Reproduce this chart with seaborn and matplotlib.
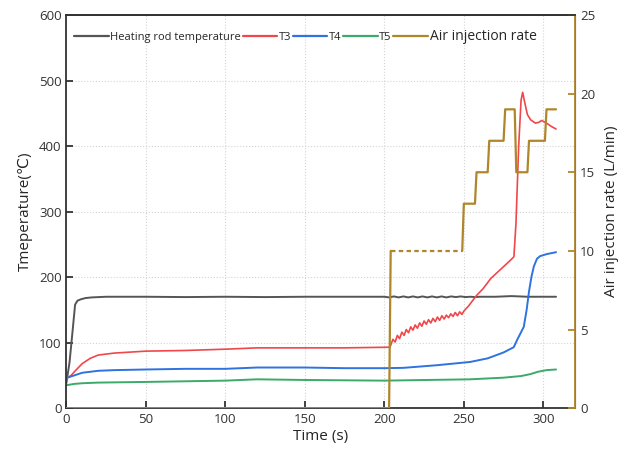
import pandas as pd
import matplotlib.pyplot as plt
import seaborn as sns
from matplotlib.lines import Line2D

# Heating rod temperature
t_rod = [0, 2, 4, 5.5, 7, 9, 12, 16, 25, 50, 75, 100, 125, 150, 175, 200,
         203, 206, 209, 212, 215, 218, 221, 224, 227, 230, 233, 236, 239, 242,
         245, 248, 251, 254, 257, 260, 270, 280, 290, 300, 308]
rod = [38, 70, 120, 158, 164, 166, 168, 169, 170, 170, 169.5, 170, 169.5, 170, 170, 170,
       169, 170.5, 169, 170.5, 169, 170.5, 169, 170.5, 169, 170.5, 169, 170.5, 169, 170.5,
       169.5, 170.5, 169.5, 170, 169.5, 170, 170, 171, 170, 170, 170]

# T3
t_t3 = [0, 3, 6, 10, 15, 20, 30, 50, 75, 100, 110, 120, 150, 175, 203.5,
        204.0, 205.4, 206.8, 208.2, 209.6, 211.0, 212.4, 213.8, 215.2, 216.6,
        218.0, 219.4, 220.8, 222.2, 223.6, 225.0, 226.4, 227.8, 229.2, 230.6,
        232.0, 233.4, 234.8, 236.2, 237.6, 239.0, 240.4, 241.8, 243.2, 244.6,
        246.0, 247.4, 248.8, 250.0,
        253, 258, 262, 267, 271, 275, 279, 281.5, 282.8, 284.5, 286, 287,
        288.7, 290, 292, 295, 297, 299, 302, 305, 308]
t3 = [45, 50, 58, 68, 76, 81, 84, 87, 88, 90, 91, 92, 92, 92, 93,
      96, 105, 101, 111, 106, 116, 111, 120, 115, 124,
      119, 127, 122, 130, 125, 133, 128, 135, 130, 137,
      132, 139, 134, 141, 136, 142, 138, 144, 140, 146,
      141, 147, 143, 148,
      156, 172, 182, 198, 207, 216, 225, 231, 282, 400, 470, 482,
      462, 448, 440, 435, 436, 439, 435, 430, 426]

# T4
t_t4 = [0, 5, 10, 20, 30, 50, 75, 100, 120, 150, 175, 200, 212, 233, 254,
        265, 275, 281.4, 283.5, 287.7, 289.5, 291, 292.5, 294, 296, 298, 302, 308]
t4 = [46, 50, 54, 57, 58, 59, 60, 60, 62, 62, 61, 61, 61.5, 65.5, 70.5,
      76, 85, 93, 104, 124, 150, 178, 200, 216, 228, 232, 235, 238]

# T5
t_t5 = [0, 5, 10, 20, 50, 75, 100, 120, 150, 200, 254, 275, 286, 292, 296.6, 302, 308]
t5 = [35, 37, 38, 39, 40, 41, 42, 44, 43, 42, 44, 46.5, 49, 52, 55.5, 58, 59]

# Air injection rate
t_air_a = [0, 203, 204]
air_a = [0, 0, 10]
t_air_b = [204, 249]
air_b = [10, 10]
t_air_c = [249, 250, 257, 258, 265, 266, 275, 276, 282, 283, 290, 291, 301, 302, 308]
air_c = [10, 13, 13, 15, 15, 17, 17, 19, 19, 15, 15, 17, 17, 19, 19]

c_rod = '#555555'
c_t3 = '#F0474B'
c_t4 = '#2F72E0'
c_t5 = '#3BAA6A'
c_air = '#B0862A'

sns.set_style('ticks')
plt.rcParams['font.family'] = ['Open Sans', 'DejaVu Sans']

fig = plt.figure(figsize=(6.32, 4.54), dpi=100)
ax = fig.add_axes([0.105, 0.101, 0.805, 0.866])
ax2 = ax.twinx()

sns.lineplot(x=t_rod, y=rod, ax=ax, color=c_rod, lw=1.4, sort=False)
sns.lineplot(x=t_t3, y=t3, ax=ax, color=c_t3, lw=1.2, sort=False)
sns.lineplot(x=t_t4, y=t4, ax=ax, color=c_t4, lw=1.4, sort=False)
sns.lineplot(x=t_t5, y=t5, ax=ax, color=c_t5, lw=1.4, sort=False)

sns.lineplot(x=t_air_a, y=air_a, ax=ax2, color=c_air, lw=1.6, sort=False)
sns.lineplot(x=t_air_b, y=air_b, ax=ax2, color=c_air, lw=1.6, sort=False, linestyle=(0, (2, 1.5)))
sns.lineplot(x=t_air_c, y=air_c, ax=ax2, color=c_air, lw=1.6, sort=False)

ax.set_xlim(0, 320)
ax.set_ylim(0, 600)
ax2.set_ylim(0, 25)
ax.set_xticks([0, 50, 100, 150, 200, 250, 300])
ax.set_yticks([0, 100, 200, 300, 400, 500, 600])
ax2.set_yticks([0, 5, 10, 15, 20, 25])

ax.grid(True, linestyle=':', color='#d4d4d4', lw=0.8)
ax.set_axisbelow(True)

ax.set_xlabel('Time (s)', fontsize=11, labelpad=2)
ax.set_ylabel('Tmeperature(℃)', fontsize=11, labelpad=4)
ax2.set_ylabel('Air injection rate (L/min)', fontsize=11, labelpad=6)

for sp in ['left', 'bottom', 'top']:
    ax.spines[sp].set_color('#333333')
    ax.spines[sp].set_linewidth(1.3)
ax2.spines['right'].set_color(c_air)
ax2.spines['right'].set_linewidth(1.3)
ax2.spines['top'].set_color('#333333')
ax2.spines['top'].set_linewidth(1.3)
ax2.spines['left'].set_visible(False)
ax2.spines['bottom'].set_visible(False)

ax.tick_params(direction='in', length=5, width=1.3, labelsize=9.5, colors='#333333')
ax2.tick_params(direction='in', length=5, width=1.3, labelsize=9.5, color=c_air, labelcolor='#333333')

handles = [Line2D([], [], color=c_rod, lw=1.6), Line2D([], [], color=c_t3, lw=1.6),
           Line2D([], [], color=c_t4, lw=1.6), Line2D([], [], color=c_t5, lw=1.6),
           Line2D([], [], color=c_air, lw=1.6)]
labels = ['Heating rod temperature', 'T3', 'T4', 'T5', 'Air injection rate']
leg = ax.legend(handles, labels, loc='upper left', ncol=5, frameon=False,
                fontsize=8, handlelength=3.1, handletextpad=0.15, columnspacing=0.15,
                bbox_to_anchor=(0.0, 0.985), borderaxespad=0.3)
leg.get_texts()[-1].set_fontsize(10)

fig.savefig('out.png', dpi=100)
